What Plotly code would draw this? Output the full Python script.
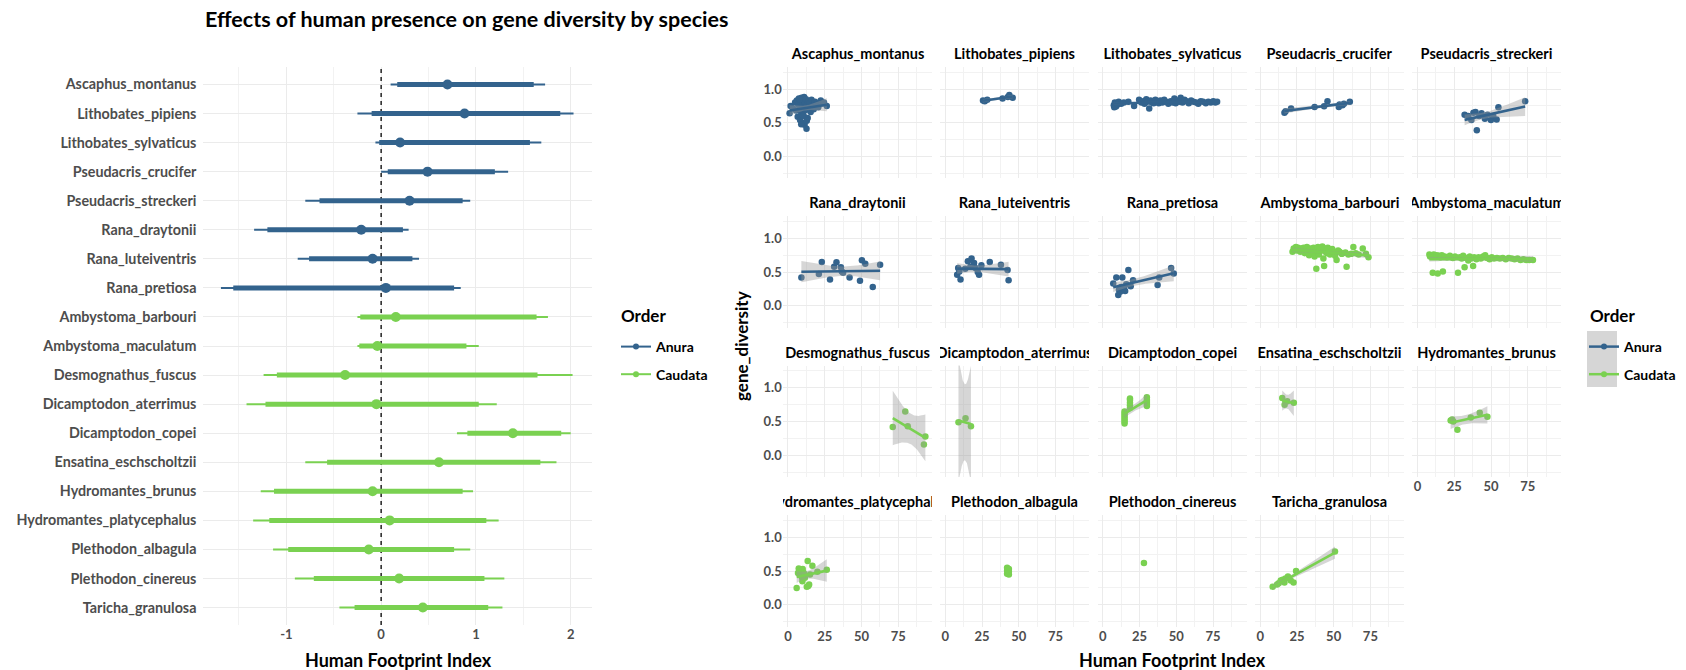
import numpy as np
import plotly.graph_objects as go

# ---------------- forest plot: effect of the Human Footprint Index ----------------
species = [
    "Ascaphus_montanus", "Lithobates_pipiens", "Lithobates_sylvaticus", "Pseudacris_crucifer",
    "Pseudacris_streckeri", "Rana_draytonii", "Rana_luteiventris", "Rana_pretiosa",
    "Ambystoma_barbouri", "Ambystoma_maculatum", "Desmognathus_fuscus", "Dicamptodon_aterrimus",
    "Dicamptodon_copei", "Ensatina_eschscholtzii", "Hydromantes_brunus", "Hydromantes_platycephalus",
    "Plethodon_albagula", "Plethodon_cinereus", "Taricha_granulosa",
]
species_order = ["Anura"] * 8 + ["Caudata"] * 11

effect_estimate = [0.70, 0.88, 0.20, 0.49, 0.30, -0.21, -0.09, 0.05, 0.155, -0.04,
                   -0.38, -0.05, 1.39, 0.61, -0.09, 0.09, -0.13, 0.19, 0.44]
effect_inner_low = [0.17, -0.10, -0.02, 0.07, -0.65, -1.20, -0.76, -1.56, -0.22, -0.23,
                    -1.10, -1.22, 0.91, -0.57, -1.13, -1.18, -0.98, -0.71, -0.28]
effect_inner_high = [1.61, 1.89, 1.57, 1.20, 0.86, 0.23, 0.33, 0.77, 1.64, 0.90,
                     1.65, 1.03, 1.90, 1.68, 0.86, 1.11, 0.77, 1.09, 1.13]
effect_outer_low = [0.10, -0.25, -0.06, 0.00, -0.80, -1.34, -0.88, -1.69, -0.25, -0.25,
                    -1.24, -1.42, 0.80, -0.80, -1.27, -1.35, -1.14, -0.91, -0.44]
effect_outer_high = [1.73, 2.03, 1.69, 1.34, 0.94, 0.29, 0.40, 0.84, 1.76, 1.03,
                     2.02, 1.22, 2.00, 1.85, 0.97, 1.24, 0.94, 1.30, 1.28]

forest_x_ticks = [-1, 0, 1, 2]
forest_x_ticktext = ["-1", "0", "1", "2"]

# ---------------- site-level gene diversity vs Human Footprint Index ----------------
# (human footprint index, gene diversity) per sampling site
ascaphus_montanus = [
    (1.1, 0.64), (1.8, 0.75), (3.5, 0.71), (4.8, 0.80), (5.5, 0.68), (6.0, 0.83), (6.6, 0.59),
    (7.0, 0.77), (7.4, 0.86), (7.9, 0.72), (8.2, 0.54), (8.6, 0.81), (8.9, 0.66), (9.2, 0.87),
    (9.5, 0.50), (9.8, 0.78), (10.1, 0.84), (10.4, 0.62), (10.7, 0.74), (11.0, 0.88), (11.3, 0.47),
    (11.6, 0.80), (12.0, 0.69), (12.3, 0.85), (12.6, 0.41), (13.0, 0.76), (13.4, 0.57), (13.8, 0.82),
    (14.2, 0.72), (14.8, 0.79), (15.4, 0.66), (16.0, 0.84), (16.8, 0.75), (17.5, 0.70), (18.4, 0.81),
    (19.5, 0.77), (20.6, 0.73), (22.3, 0.83), (23.5, 0.79), (24.5, 0.80), (26.4, 0.75), (9.0, 0.48),
    (10.5, 0.60), (12.8, 0.53), (8.0, 0.85),
]
lithobates_pipiens = [(25.6, 0.83), (26.8, 0.82), (28.5, 0.84), (38.9, 0.86), (42.5, 0.88),
                      (43.5, 0.91), (45.8, 0.87)]
lithobates_sylvaticus = [
    (7.5, 0.76), (7.8, 0.73), (8.2, 0.80), (8.6, 0.78), (9.0, 0.74), (9.5, 0.79), (10.1, 0.77),
    (10.8, 0.81), (12.5, 0.78), (14.3, 0.80), (17.4, 0.81), (21.3, 0.75), (24.7, 0.84), (26.3, 0.80),
    (27.5, 0.82), (28.4, 0.78), (29.6, 0.85), (30.3, 0.81), (31.6, 0.71), (32.5, 0.83), (33.4, 0.80),
    (34.6, 0.79), (35.8, 0.84), (36.9, 0.82), (38.1, 0.79), (39.2, 0.83), (40.5, 0.80), (41.8, 0.84),
    (43.0, 0.81), (44.6, 0.78), (46.2, 0.82), (47.5, 0.80), (48.7, 0.86), (49.6, 0.79), (50.8, 0.83),
    (51.9, 0.81), (53.0, 0.87), (54.2, 0.80), (55.6, 0.84), (57.0, 0.82), (58.5, 0.79), (60.1, 0.83),
    (61.7, 0.81), (63.6, 0.80), (65.0, 0.78), (66.7, 0.82), (68.3, 0.81), (70.1, 0.79), (71.8, 0.81),
    (73.5, 0.80), (75.2, 0.82), (76.6, 0.80), (77.8, 0.81),
]
pseudacris_crucifer = [(16.5, 0.65), (17.3, 0.67), (21.0, 0.71), (37.0, 0.735), (43.5, 0.745),
                       (45.8, 0.82), (53.5, 0.735), (54.0, 0.77), (56.0, 0.76), (57.0, 0.78),
                       (61.0, 0.81)]
pseudacris_streckeri = [(32.0, 0.62), (34.5, 0.60), (36.6, 0.54), (38.0, 0.65), (39.4, 0.66),
                        (40.3, 0.39), (42.0, 0.60), (43.5, 0.64), (45.8, 0.56), (47.5, 0.62),
                        (49.9, 0.54), (51.5, 0.60), (53.8, 0.55), (55.0, 0.73), (73.2, 0.82)]
rana_draytonii = [(9.1, 0.42), (21.0, 0.47), (23.0, 0.65), (28.6, 0.39), (31.4, 0.58), (33.0, 0.645),
                  (36.0, 0.57), (36.6, 0.51), (37.5, 0.49), (41.9, 0.42), (49.0, 0.37), (50.3, 0.675),
                  (52.6, 0.625), (57.7, 0.28), (62.7, 0.61)]
rana_luteiventris = [(8.0, 0.46), (8.7, 0.56), (9.5, 0.51), (10.3, 0.39), (13.5, 0.55), (15.3, 0.66),
                     (17.0, 0.58), (17.8, 0.70), (19.5, 0.635), (20.5, 0.56), (22.0, 0.50), (22.9, 0.46),
                     (24.5, 0.60), (30.2, 0.65), (37.8, 0.61), (42.3, 0.53), (43.0, 0.38)]
rana_pretiosa = [(7.1, 0.33), (9.2, 0.42), (10.5, 0.16), (11.0, 0.24), (11.8, 0.21), (12.5, 0.28),
                 (13.3, 0.42), (14.4, 0.27), (15.2, 0.22), (16.0, 0.32), (17.4, 0.53), (19.0, 0.29),
                 (20.6, 0.38), (37.3, 0.31), (38.4, 0.42), (46.5, 0.56), (48.3, 0.48)]
ambystoma_barbouri = [
    (22.0, 0.80), (22.8, 0.85), (23.5, 0.83), (24.3, 0.87), (25.0, 0.82), (25.8, 0.86), (26.5, 0.84),
    (27.3, 0.80), (28.0, 0.85), (28.8, 0.83), (29.5, 0.86), (30.3, 0.78), (31.0, 0.84), (31.8, 0.87),
    (32.5, 0.81), (33.3, 0.75), (34.0, 0.85), (34.8, 0.83), (35.5, 0.79), (36.3, 0.86), (37.0, 0.73),
    (37.8, 0.84), (38.2, 0.55), (38.6, 0.81), (39.3, 0.87), (40.0, 0.76), (40.8, 0.84), (41.5, 0.82),
    (42.3, 0.88), (43.0, 0.70), (43.5, 0.59), (43.8, 0.85), (44.5, 0.80), (45.3, 0.78), (46.0, 0.86),
    (46.8, 0.83), (47.5, 0.76), (48.3, 0.81), (49.0, 0.84), (50.0, 0.79), (51.0, 0.74), (52.0, 0.68),
    (53.0, 0.82), (54.0, 0.80), (55.5, 0.77), (56.5, 0.78), (58.0, 0.79), (58.8, 0.58), (60.0, 0.76),
    (62.0, 0.77), (63.4, 0.87), (65.0, 0.78), (67.0, 0.76), (69.8, 0.85), (72.0, 0.77), (73.7, 0.72),
]
ambystoma_maculatum = [
    (8.0, 0.76), (8.5, 0.73), (9.2, 0.75), (10.0, 0.74), (10.3, 0.49), (11.0, 0.76), (12.0, 0.73),
    (13.0, 0.75), (13.7, 0.48), (14.5, 0.74), (15.5, 0.72), (16.5, 0.75), (17.2, 0.51), (18.5, 0.73),
    (20.0, 0.72), (22.0, 0.74), (24.0, 0.71), (25.5, 0.73), (27.5, 0.49), (28.5, 0.72), (30.0, 0.70),
    (31.0, 0.74), (32.0, 0.57), (33.0, 0.71), (34.5, 0.67), (35.5, 0.73), (36.5, 0.70), (37.8, 0.59),
    (38.5, 0.72), (40.0, 0.69), (41.5, 0.72), (43.0, 0.70), (44.5, 0.73), (46.0, 0.75), (47.5, 0.71),
    (49.0, 0.69), (50.5, 0.72), (52.0, 0.70), (54.0, 0.71), (56.0, 0.70), (58.0, 0.71), (60.0, 0.69),
    (62.0, 0.71), (64.0, 0.70), (66.0, 0.69), (68.0, 0.70), (70.0, 0.68), (72.0, 0.69), (74.0, 0.68),
    (76.0, 0.68), (78.5, 0.68),
]
desmognathus_fuscus = [(71.3, 0.42), (79.8, 0.65), (81.5, 0.43), (92.5, 0.16), (93.5, 0.28)]
dicamptodon_aterrimus = [(8.9, 0.49), (13.7, 0.55), (17.4, 0.43)]
dicamptodon_copei = [(14.8, 0.47), (14.8, 0.50), (14.8, 0.53), (14.8, 0.56), (14.8, 0.59), (14.8, 0.62),
                     (14.8, 0.65), (18.5, 0.70), (18.5, 0.74), (18.5, 0.78), (18.5, 0.82), (18.5, 0.84),
                     (30.0, 0.73), (30.0, 0.76), (30.0, 0.79), (30.0, 0.82), (30.0, 0.86)]
ensatina_eschscholtzii = [(15.0, 0.85), (16.6, 0.75), (18.4, 0.80), (22.9, 0.78)]
hydromantes_brunus = [(22.5, 0.515), (23.5, 0.53), (24.3, 0.50), (27.1, 0.38), (36.2, 0.56),
                      (42.3, 0.63), (47.5, 0.57)]
hydromantes_platycephalus = [
    (5.9, 0.25), (6.8, 0.47), (7.3, 0.54), (8.0, 0.50), (8.5, 0.44), (9.5, 0.41), (9.8, 0.35),
    (10.0, 0.53), (10.5, 0.48), (10.9, 0.46), (11.5, 0.40), (12.8, 0.27), (13.4, 0.65), (13.8, 0.28),
    (14.4, 0.30), (15.0, 0.45), (16.6, 0.58), (20.0, 0.49), (26.4, 0.52),
]
plethodon_albagula = [(42.0, 0.46), (42.0, 0.51), (42.0, 0.55), (43.2, 0.45), (43.2, 0.49), (43.2, 0.53)]
plethodon_cinereus = [(28.0, 0.62)]
taricha_granulosa = [(8.5, 0.27), (11.5, 0.30), (12.6, 0.32), (14.0, 0.36), (15.3, 0.37), (16.5, 0.33),
                     (17.2, 0.39), (18.9, 0.42), (20.8, 0.36), (22.7, 0.33), (24.4, 0.50), (50.9, 0.79)]

site_data = [
    ascaphus_montanus, lithobates_pipiens, lithobates_sylvaticus, pseudacris_crucifer,
    pseudacris_streckeri, rana_draytonii, rana_luteiventris, rana_pretiosa, ambystoma_barbouri,
    ambystoma_maculatum, desmognathus_fuscus, dicamptodon_aterrimus, dicamptodon_copei,
    ensatina_eschscholtzii, hydromantes_brunus, hydromantes_platycephalus, plethodon_albagula,
    plethodon_cinereus, taricha_granulosa,
]

facet_x_ticks = [0, 25, 50, 75]
facet_y_ticks = [0.0, 0.5, 1.0]
facet_y_ticktext = ["0.0", "0.5", "1.0"]

# ---------------- styling ----------------
ORDER_COLORS = {"Anura": "#33638D", "Caudata": "#7AD151"}
FONT = "Lato"
TICK_GREY = "#4D4D4D"
GRID = "#EBEBEB"
MINOR_GRID = "#F2F2F2"
W, H = 1686, 670


def fx(px):
    return px / W


def fy(py):
    return 1 - py / H


# two-sided 95% t quantiles for small samples
T975 = [12.706, 4.303, 3.182, 2.776, 2.571, 2.447, 2.365, 2.306, 2.262, 2.228, 2.201, 2.179, 2.160,
        2.145, 2.131, 2.120, 2.110, 2.101, 2.093, 2.086, 2.080, 2.074, 2.069, 2.064, 2.060, 2.056,
        2.052, 2.048, 2.045, 2.042]


def t_quantile(df):
    if df <= len(T975):
        return T975[df - 1]
    z = 1.959964
    return z + (z ** 3 + z) / (4 * df) + (5 * z ** 5 + 16 * z ** 3 + 3 * z) / (96 * df ** 2)


def linear_smooth(points):
    """Least-squares line with a 95% confidence band (80 evaluation points)."""
    x = np.array([p[0] for p in points], dtype=float)
    y = np.array([p[1] for p in points], dtype=float)
    if len(np.unique(x)) < 3:
        return None
    n = len(x)
    xm = x.mean()
    sxx = ((x - xm) ** 2).sum()
    slope = ((x - xm) * (y - y.mean())).sum() / sxx
    icpt = y.mean() - slope * xm
    resid = y - (icpt + slope * x)
    s = np.sqrt((resid ** 2).sum() / (n - 2))
    grid = np.linspace(x.min(), x.max(), 80)
    fit = icpt + slope * grid
    se = s * np.sqrt(1.0 / n + (grid - xm) ** 2 / sxx)
    t = t_quantile(n - 2)
    return grid, fit, fit - t * se, fit + t * se


fig = go.Figure()

# ---------------- left panel: forest plot ----------------
n_sp = len(species)
row_pos = [n_sp - i for i in range(n_sp)]
y_lo, y_hi = 0.4, n_sp + 0.6

# reference line at zero effect
fig.add_trace(go.Scatter(x=[0, 0], y=[y_lo, y_hi], mode="lines",
                         line=dict(color="black", width=1.3, dash="4px,4px"),
                         xaxis="x", yaxis="y", showlegend=False, hoverinfo="skip"))

for order in ["Anura", "Caudata"]:
    idx = [i for i in range(n_sp) if species_order[i] == order]
    col = ORDER_COLORS[order]
    ox, oy, ix, iy = [], [], [], []
    for i in idx:
        ox += [effect_outer_low[i], effect_outer_high[i], None]
        oy += [row_pos[i], row_pos[i], None]
        ix += [effect_inner_low[i], effect_inner_high[i], None]
        iy += [row_pos[i], row_pos[i], None]
    fig.add_trace(go.Scatter(x=ox, y=oy, mode="lines", line=dict(color=col, width=2),
                             xaxis="x", yaxis="y", showlegend=False, hoverinfo="skip"))
    fig.add_trace(go.Scatter(x=ix, y=iy, mode="lines", line=dict(color=col, width=5),
                             xaxis="x", yaxis="y", showlegend=False, hoverinfo="skip"))
    fig.add_trace(go.Scatter(x=[effect_estimate[i] for i in idx], y=[row_pos[i] for i in idx],
                             mode="markers", marker=dict(color=col, size=10),
                             xaxis="x", yaxis="y", showlegend=False,
                             text=[species[i] for i in idx]))

tick_font = dict(family=FONT, size=13, color=TICK_GREY, weight="bold")
layout = dict(
    width=W, height=H, margin=dict(l=0, r=0, t=0, b=0),
    paper_bgcolor="white", plot_bgcolor="white", font=dict(family=FONT),
    xaxis=dict(domain=[fx(203.4), fx(592.3)], range=[-1.875, 2.228], tickvals=forest_x_ticks,
               ticktext=forest_x_ticktext, showgrid=True, gridcolor=GRID, gridwidth=1.3,
               zeroline=False, showline=False, ticks="", tickfont=tick_font,
               minor=dict(tickvals=[-1.5, -0.5, 0.5, 1.5], showgrid=True, gridcolor=MINOR_GRID, gridwidth=1),
               anchor="y", fixedrange=True),
    yaxis=dict(domain=[fy(625), fy(67)], range=[y_lo, y_hi], tickvals=row_pos, ticktext=species,
               showgrid=True, gridcolor=GRID, gridwidth=1.3, zeroline=False, showline=False, ticks="",
               ticklabelstandoff=6,
               tickfont=dict(family=FONT, size=14.3, color=TICK_GREY, weight="bold"),
               anchor="x", fixedrange=True),
)

# ---------------- right panel: faceted scatter with linear trends ----------------
col_left = [782.7, 940.1, 1097.5, 1254.9, 1412.3]
row_top = [66.7, 216.0, 365.5, 515.0]
panel_w, panel_h = 149.0, 111.5
annotations = []

for k, (name, pts) in enumerate(zip(species, site_data)):
    r, c = divmod(k, 5)
    xa, ya = f"x{k + 2}", f"y{k + 2}"
    col = ORDER_COLORS[species_order[k]]
    x0 = col_left[c]
    y0 = row_top[r]
    bottom_of_column = (k + 5) >= n_sp
    layout[f"xaxis{k + 2}"] = dict(
        domain=[fx(x0), fx(x0 + panel_w)], range=[-3.6, 97.8], anchor=ya,
        tickvals=facet_x_ticks, showticklabels=bottom_of_column, showgrid=True, gridcolor=GRID,
        gridwidth=1.3, zeroline=False, showline=False, ticks="", tickfont=tick_font,
        minor=dict(tickvals=[12.5, 37.5, 62.5, 87.5], showgrid=True, gridcolor=MINOR_GRID, gridwidth=1),
        fixedrange=True)
    layout[f"yaxis{k + 2}"] = dict(
        domain=[fy(y0 + panel_h), fy(y0)], range=[-0.32, 1.33], anchor=xa,
        tickvals=facet_y_ticks, ticktext=facet_y_ticktext, showticklabels=(c == 0), showgrid=True,
        gridcolor=GRID, gridwidth=1.3, zeroline=False, showline=False, ticks="", tickfont=tick_font,
        minor=dict(tickvals=[-0.25, 0.25, 0.75, 1.25], showgrid=True, gridcolor=MINOR_GRID, gridwidth=1),
        fixedrange=True)

    fig.add_trace(go.Scatter(x=[p[0] for p in pts], y=[p[1] for p in pts], mode="markers",
                             marker=dict(color=col, size=6.5), xaxis=xa, yaxis=ya, showlegend=False,
                             name=name))
    smooth = linear_smooth(pts)
    if smooth is not None:
        gx, fit, lo, hi = smooth
        fig.add_trace(go.Scatter(x=np.concatenate([gx, gx[::-1]]), y=np.concatenate([hi, lo[::-1]]),
                                 fill="toself", fillcolor="rgba(153,153,153,0.4)", mode="lines",
                                 line=dict(width=0), xaxis=xa, yaxis=ya, showlegend=False,
                                 hoverinfo="skip"))
        fig.add_trace(go.Scatter(x=gx, y=fit, mode="lines", line=dict(color=col, width=2.6),
                                 xaxis=xa, yaxis=ya, showlegend=False, hoverinfo="skip"))

    annotations.append(dict(text=f"<b>{name}</b>", x=fx(x0 + panel_w / 2), y=fy(y0 - 13.5),
                            xref="paper", yref="paper", xanchor="center", yanchor="middle",
                            width=panel_w, align="center", showarrow=False,
                            font=dict(family=FONT, size=14.5, color="black")))

# ---------------- legends ----------------
for order in ["Anura", "Caudata"]:
    col = ORDER_COLORS[order]
    fig.add_trace(go.Scatter(x=[None], y=[None], mode="lines+markers", name=order,
                             line=dict(color=col, width=2), marker=dict(color=col, size=6),
                             xaxis="x", yaxis="y", legend="legend", legendgroup="l1" + order))
    fig.add_trace(go.Scatter(x=[None], y=[None], mode="lines+markers", name=order,
                             line=dict(color=col, width=2.5), marker=dict(color=col, size=6),
                             xaxis="x2", yaxis="y2", legend="legend2", legendgroup="l2" + order))

legend_common = dict(xanchor="left", yanchor="top", bgcolor="rgba(0,0,0,0)",
                     tracegroupgap=6.4, itemwidth=30,
                     font=dict(family=FONT, size=14, color="black", weight="bold"))
layout["legend"] = dict(x=fx(616), y=fy(331), **legend_common)
layout["legend2"] = dict(x=fx(1584), y=fy(331), **legend_common)

# grey backdrop behind the trend-line keys (confidence band swatch)
shapes = [dict(type="rect", xref="paper", yref="paper", x0=fx(1587), x1=fx(1617),
               y0=fy(387), y1=fy(331), fillcolor="#D6D6D6", line=dict(width=0), layer="above")]

# ---------------- titles ----------------
annotations += [
    dict(text="<b>Order</b>", x=fx(619), y=fy(315), xref="paper", yref="paper",
         xanchor="left", yanchor="middle", showarrow=False,
         font=dict(family=FONT, size=17, color="black")),
    dict(text="<b>Order</b>", x=fx(1588), y=fy(315), xref="paper", yref="paper",
         xanchor="left", yanchor="middle", showarrow=False,
         font=dict(family=FONT, size=17, color="black")),
    dict(text="<b>Effects of human presence on gene diversity by species</b>", x=fx(203), y=fy(19),
         xref="paper", yref="paper", xanchor="left", yanchor="middle", showarrow=False,
         font=dict(family=FONT, size=21.5, color="black")),
    dict(text="<b>Human Footprint Index</b>", x=fx(398), y=fy(660), xref="paper", yref="paper",
         xanchor="center", yanchor="middle", showarrow=False,
         font=dict(family=FONT, size=18, color="black")),
    dict(text="<b>Human Footprint Index</b>", x=fx(1172), y=fy(660), xref="paper", yref="paper",
         xanchor="center", yanchor="middle", showarrow=False,
         font=dict(family=FONT, size=18, color="black")),
    dict(text="<b>gene_diversity</b>", x=fx(741), y=fy(346), xref="paper", yref="paper",
         xanchor="center", yanchor="middle", textangle=-90, showarrow=False,
         font=dict(family=FONT, size=17, color="black")),
]

layout["shapes"] = shapes
layout["annotations"] = annotations
layout["showlegend"] = True
fig.update_layout(**layout)

fig.write_html("out.html")
